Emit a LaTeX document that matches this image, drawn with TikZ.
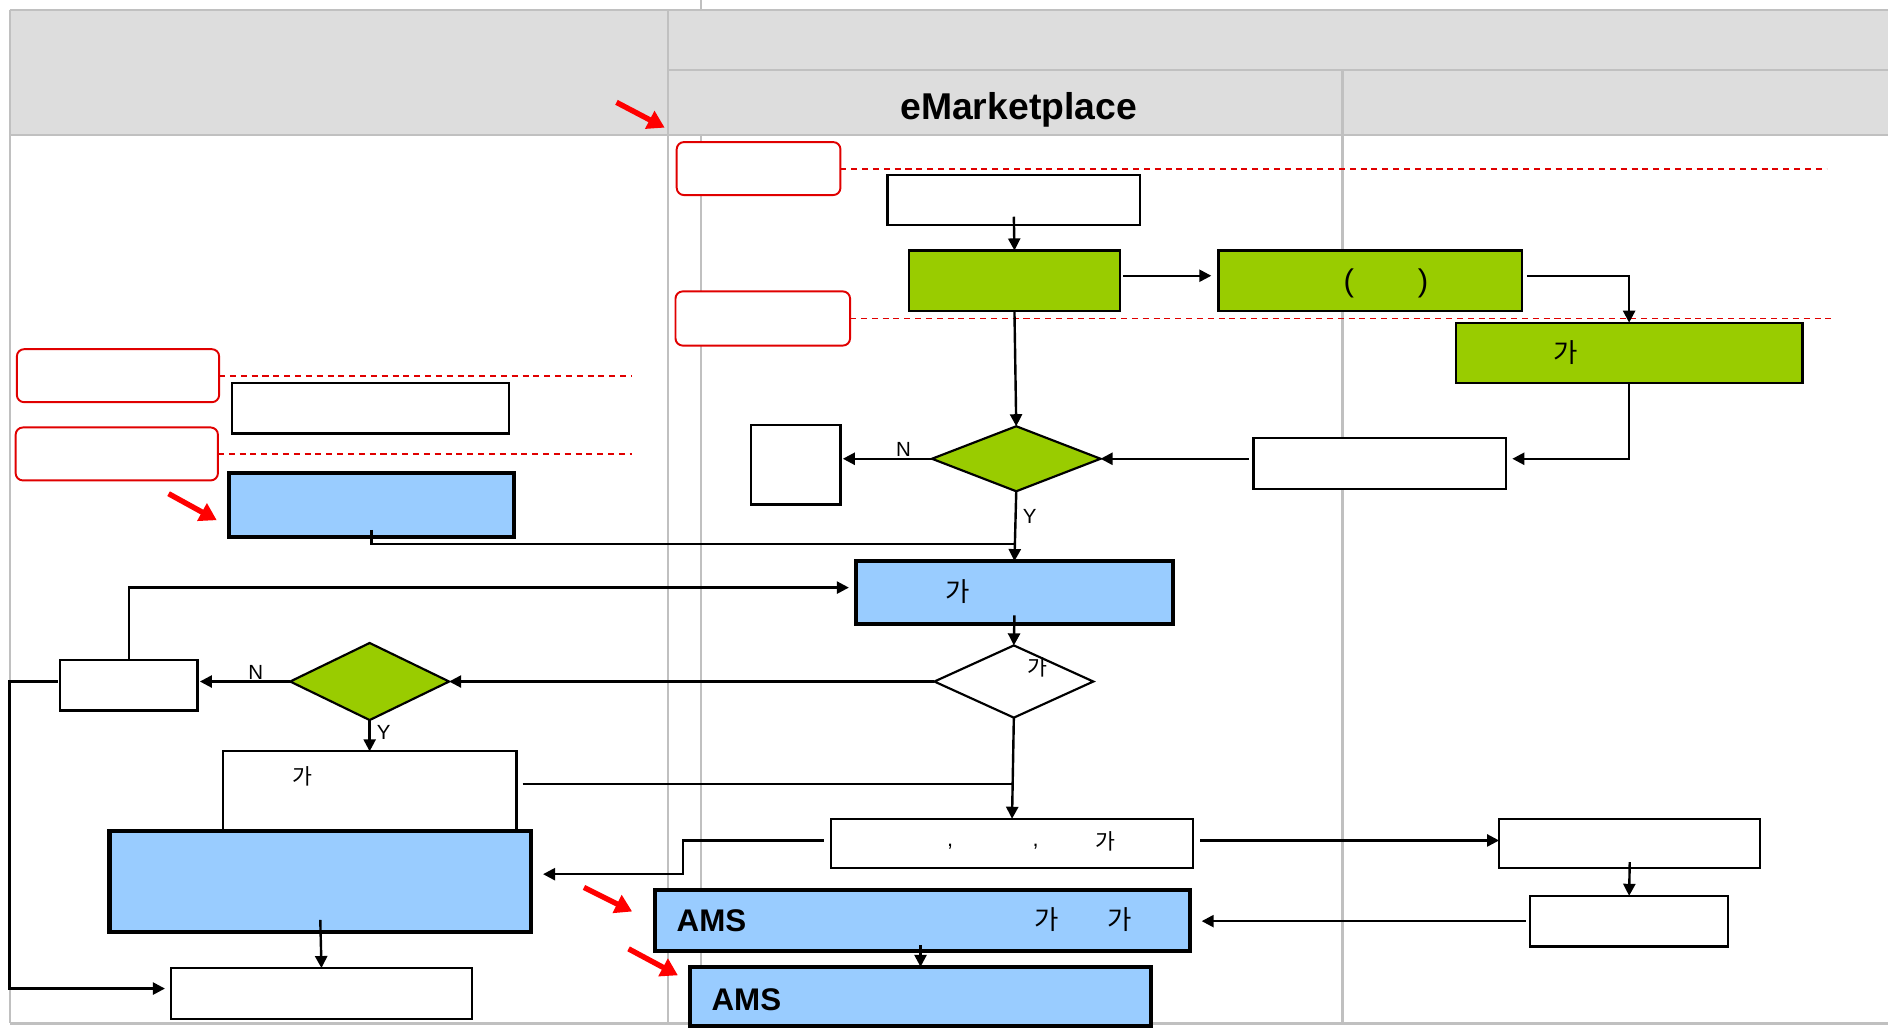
\documentclass[tikz,border=0pt]{standalone}
\usepackage{fontspec}
\setmainfont{Liberation Sans}
\newfontfamily\kr{Noto Sans CJK KR}
\usetikzlibrary{arrows.meta,shapes.geometric}
\definecolor{grn}{HTML}{99CC00}
\definecolor{blu}{HTML}{99CCFF}
\definecolor{hdr}{HTML}{DDDDDD}
\definecolor{gridc}{HTML}{C0C0C0}
\definecolor{redc}{HTML}{E00000}
\newcommand\mkbox[7]{\node[#2, minimum width={(#5-#3)*1pt}, minimum height={(#6-#4)*1pt}] (#1) at ({(#3+#5)/2},{(#4+#6)/2}) {#7};}
\begin{document}
\begin{tikzpicture}[x=1pt,y=-1pt,
 every node/.style={inner sep=0pt, outer sep=0pt},
 wbox/.style={draw=black, line width=1.8pt, fill=white, rectangle},
 gbox/.style={draw=black, line width=1.8pt, fill=grn, rectangle},
 bbox/.style={draw=black, line width=3.5pt, fill=blu, rectangle},
 rbox/.style={draw=redc, line width=1.6pt, rounded corners=6pt, fill=white, rectangle},
 rdash/.style={draw=redc, line width=1.6pt, dash pattern=on 5pt off 4pt},
 gline/.style={draw=gridc, line width=1.8pt},
 conn/.style={draw=black, line width=2pt},
 arr/.style={conn, -{Triangle[length=10pt,width=10pt]}},
 redarr/.style={draw=red, line width=4.5pt, -{Triangle[length=14pt,width=16pt]}},
 lbl/.style={font=\fontsize{17}{20}\selectfont},
 krt/.style={font=\kr\fontsize{22}{26}\selectfont},
 krs/.style={font=\kr\fontsize{18}{22}\selectfont},
 amst/.style={font=\bfseries\fontsize{26}{30}\selectfont, anchor=west},
]
\useasboundingbox (0,0) rectangle (1568,855);
% table / header
\draw[gline] (582,0) -- (582,850);
\fill[hdr] (8,8) rectangle (1568,112);
\draw[gline] (8,8) -- (1568,8);
\draw[gline] (8,112) -- (1568,112);
\draw[gline] (555,58) -- (1568,58);
\draw[gline] (8,8) -- (8,850);
\draw[gline] (555,8) -- (555,850);
\draw[gline] (1115,58) -- (1115,850);
\draw[gline] (8,850) -- (1568,850);
\node[font=\bfseries\fontsize{31}{36}\selectfont] (title) at (846,91) {eMarketplace};

% red markers
\mkbox{r1}{rbox}{562}{118}{698}{162}{}
\mkbox{r2}{rbox}{561}{242}{706}{287}{}
\mkbox{r3}{rbox}{14}{290}{182}{334}{}
\mkbox{r4}{rbox}{13}{355}{181}{399}{}
\draw[rdash] (r1.east) -- ++(819,0);
\draw[rdash] (r2.east) -- ++(816,0);
\draw[rdash] (r3.east) -- ++(343,0);
\draw[rdash] (r4.east) -- ++(344,0);

% boxes
\mkbox{b1}{wbox}{737}{145}{947}{187}{}
\mkbox{g1}{gbox}{755}{208}{930}{258}{}
\mkbox{g2}{gbox}{1012}{208}{1264}{258}{}
\mkbox{g3}{gbox}{1209}{268}{1497}{318}{}
\mkbox{sq}{wbox}{624}{353}{698}{419}{}
\node[diamond, draw=black, line width=1.8pt, fill=grn, minimum width=140pt, minimum height=54pt] (d1) at (844,381) {};
\mkbox{w2}{wbox}{1041}{364}{1251}{406}{}
\mkbox{w3}{wbox}{193}{318}{423}{360}{}
\mkbox{bl1}{bbox}{190}{393}{427}{446}{}
\mkbox{bl2}{bbox}{711}{466}{974}{518}{}
\node[diamond, draw=black, line width=1.8pt, fill=white, minimum width=132pt, minimum height=60pt] (d2) at (842,566) {};
\node[diamond, draw=black, line width=1.8pt, fill=grn, minimum width=132pt, minimum height=64pt] (d3) at (307,566) {};
\mkbox{w4}{wbox}{50}{548}{164}{590}{}
\mkbox{w5}{wbox}{185}{624}{429}{689}{}
\mkbox{bl3}{bbox}{91}{690}{441}{774}{}
\mkbox{w6}{wbox}{142}{804}{392}{846}{}
\mkbox{w7}{wbox}{690}{680}{991}{721}{}
\mkbox{w8}{wbox}{1245}{680}{1462}{721}{}
\mkbox{w9}{wbox}{1271}{744}{1435}{786}{}
\mkbox{bl4}{bbox}{544}{739}{988}{790}{}
\mkbox{bl5}{bbox}{573}{803}{956}{852}{}

% texts
\node[font=\fontsize{26}{30}\selectfont] (tg2) at (1151,235) {(\hspace{53pt})};
\node[krt] (tg3) at (1300,293) {가};
\node[krt] (tbl2) at (795,491) {가};
\node[krs] (td2) at (862,554) {가};
\node[krs] (tw5) at (251,645) {가};
\node[font=\fontsize{18}{22}\selectfont] (tc1) at (789,703) {,};
\node[font=\fontsize{18}{22}\selectfont] (tc2) at (860,703) {,};
\node[krs] (tw7) at (918,699) {가};
\node[amst] (ams1) at (562,765) {AMS};
\node[krt] (tb4a) at (869,764) {가};
\node[krt] (tb4b) at (930,764) {가};
\node[amst] (ams2) at (591,830) {AMS};

% connectors
\draw[arr] ([yshift=7pt]b1.south) -- (g1.north);
\draw[arr] ([xshift=3pt,yshift=4pt]g1.east) -- ([xshift=-6pt,yshift=4pt]g2.west);
\draw[arr] ([xshift=4pt,yshift=4pt]g2.east) -| (g3.north);
\draw[arr] (g1.south) -- (d1.north);
\draw[arr] (g3.south) |- ([xshift=5pt]d1.east -| w2.east);
\draw[arr] ([xshift=-4pt]d1.east -| w2.west) -- (d1.east);
\draw[arr] (d1.west) -- ([xshift=2pt]d1.west -| sq.east) node[lbl, pos=0.32, above=2pt] (n1) {N};
\draw[arr] (d1.south) -- (bl2.north) node[lbl, pos=0.36, right=6pt] (y1) {Y};
\coordinate (j1) at (844,452);
\draw[conn] ([yshift=6pt]bl1.south) |- (j1);
\draw[arr] (w4.north) |- ([xshift=-6pt,yshift=4pt]bl2.west);
\draw[arr] ([yshift=7pt]bl2.south) -- (d2.north);
\draw[arr] (d2.west) -- (d3.east);
\draw[arr] (d3.west) -- ([xshift=2pt]d3.west -| w4.east) node[lbl, pos=0.38, above=2pt] (n2) {N};
\draw[arr] (d3.south) -- (w5.north) node[lbl, pos=0.4, right=6pt] (y2) {Y};
\coordinate (lb) at (8,821);
\draw[arr] ([xshift=-2pt]d3.west -| w4.west) -| (lb) -- ([xshift=-5pt]lb -| w6.west);
\coordinate (j2) at (842,651);
\draw[conn] ([xshift=5pt]j2 -| w5.east) -- (j2);
\draw[arr] (d2.south) -- (w7.north);
\coordinate (k1) at (567,698);
\coordinate (k2) at (567,726);
\draw[arr] ([xshift=-6pt]k1 -| w7.west) -- (k1) -- (k2) -- ([xshift=10pt]k2 -| bl3.east);
\draw[arr] ([xshift=6pt]k1 -| w7.east) -- (k1 -| w8.west);
\draw[arr] ([yshift=5pt]w8.south) -- (w9.north);
\draw[arr] ([xshift=-4pt]w9.west) -- ([xshift=10pt]w9.west -| bl4.east);
\draw[arr] ([yshift=5pt]bl5.north |- bl4.south) -- (bl5.north);
\draw[arr] ([yshift=10pt]bl3.south) -- (w6.north);

% red pointer arrows
\draw[redarr] (512,85) -- (552,106);
\draw[redarr] (140,410) -- (180,432);
\draw[redarr] (485,737) -- (525,757);
\draw[redarr] (522,788) -- (563,810);
\end{tikzpicture}
\end{document}
